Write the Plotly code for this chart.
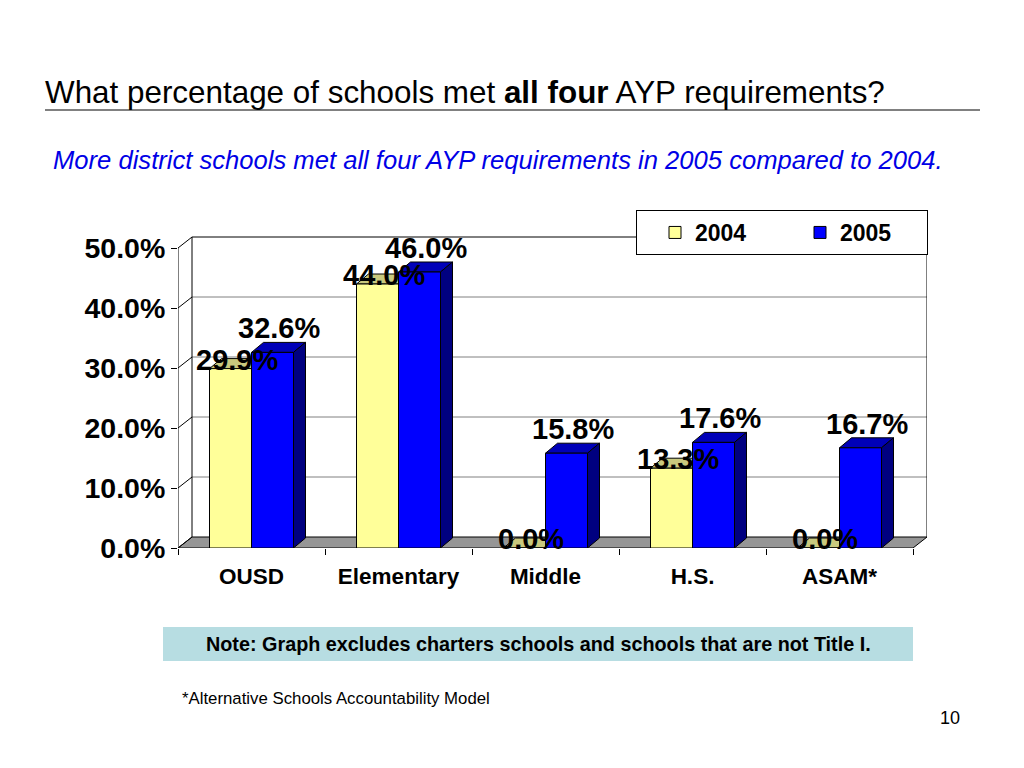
import plotly.graph_objects as go

# ---------------- data ----------------
categories = ["OUSD", "Elementary", "Middle", "H.S.", "ASAM*"]
series_names = ["2004", "2005"]
values_2004 = [29.9, 44.0, 0.0, 13.3, 0.0]
values_2005 = [32.6, 46.0, 15.8, 17.6, 16.7]
y_ticks = [0, 10, 20, 30, 40, 50]
y_tick_labels = ["0.0%", "10.0%", "20.0%", "30.0%", "40.0%", "50.0%"]

title_text = "What percentage of schools met <b>all four</b> AYP requirements?"
subtitle_text = "More district schools met all four AYP requirements in 2005 compared to 2004."
note_text = "Note: Graph excludes charters schools and schools that are not Title I."
footnote_text = "*Alternative Schools Accountability Model"
page_text = "10"

# ---------------- layout geometry (target screen px, page body offset OFF) ----------------
OFF = 8
W, H = 1024 - 2 * OFF, 768 - 2 * OFF
PL, PR = 178 - OFF, 927 - OFF      # plot area left/right
PT, PB = 236 - OFF, 548 - OFF      # plot area top/bottom
UX = 147.0                 # px per category
UY = 6.0                   # px per percentage point
x_range = [-0.5, -0.5 + (PR - PL) / UX]
y_range = [0, (PB - PT) / UY]

bar_w = 42 / UX
wall_dx, wall_dy = 14 / UX, 11 / UY
bar_dx, bar_dy = 12 / UX, 10 / UY

FONT = "Arial, Liberation Sans, Helvetica, sans-serif"
c2004, c2004_top = "#FFFF99", "#C9C97E"
c2005, c2005_top, c2005_side = "#0000FF", "#0000B8", "#000080"


def pxx(px):
    return (px - OFF - PL) / (PR - PL)


def pxy(py):
    return (PB - (py - OFF)) / (PB - PT)


n = len(categories)
idx = list(range(n))
x2004 = [i - bar_w / 2 for i in idx]
x2005 = [i + bar_w / 2 for i in idx]

fig = go.Figure()
fig.add_trace(go.Bar(x=x2004, y=values_2004, width=bar_w, name=f"<b>{series_names[0]}</b>",
                     marker=dict(color=c2004, line=dict(color="#000000", width=1))))
fig.add_trace(go.Bar(x=x2005, y=values_2005, width=bar_w, name=f"<b>{series_names[1]}</b>",
                     marker=dict(color=c2005, line=dict(color="#000000", width=1))))

shapes = []
xl, xr = -0.5, n - 0.5
# floor
shapes.append(dict(type="path", xref="x", yref="y", layer="below",
                   path=f"M {xl},0 L {xr},0 L {xr + wall_dx},{wall_dy} L {xl + wall_dx},{wall_dy} Z",
                   fillcolor="#969696", line=dict(color="#000000", width=1)))
# back wall gridlines
for v in y_ticks[1:]:
    shapes.append(dict(type="line", xref="x", yref="y", layer="below",
                       x0=xl + wall_dx, x1=xr + wall_dx, y0=v + wall_dy, y1=v + wall_dy,
                       line=dict(color="#000000" if v == y_ticks[-1] else "#808080", width=1)))
# side wall diagonals
for v in y_ticks:
    shapes.append(dict(type="line", xref="x", yref="y", layer="below",
                       x0=xl, x1=xl + wall_dx, y0=v, y1=v + wall_dy,
                       line=dict(color="#000000", width=1)))
# wall verticals + front axis line
for x0 in (xl + wall_dx, xr + wall_dx):
    shapes.append(dict(type="line", xref="x", yref="y", layer="below",
                       x0=x0, x1=x0, y0=wall_dy, y1=y_ticks[-1] + wall_dy,
                       line=dict(color="#000000", width=1)))
shapes.append(dict(type="line", xref="x", yref="y", layer="below",
                   x0=xl, x1=xl, y0=0, y1=y_ticks[-1], line=dict(color="#000000", width=1)))

# 3D bar tops / sides
for xs, vals, top_c, side_c in ((x2004, values_2004, c2004_top, "#9E9E50"),
                                (x2005, values_2005, c2005_top, c2005_side)):
    for xc, v in zip(xs, vals):
        a, b = xc - bar_w / 2, xc + bar_w / 2
        shapes.append(dict(type="path", xref="x", yref="y", layer="below",
                           path=f"M {a},{v} L {b},{v} L {b + bar_dx},{v + bar_dy} L {a + bar_dx},{v + bar_dy} Z",
                           fillcolor=top_c, line=dict(color="#000000", width=1)))
        shapes.append(dict(type="path", xref="x", yref="y", layer="below",
                           path=f"M {b},0 L {b},{v} L {b + bar_dx},{v + bar_dy} L {b + bar_dx},{bar_dy} Z",
                           fillcolor=side_c, line=dict(color="#000000", width=1)))

# title rule
shapes.append(dict(type="line", xref="paper", yref="paper", layer="above",
                   x0=pxx(45), x1=pxx(980), y0=pxy(110), y1=pxy(110),
                   line=dict(color="#808080", width=2)))
# note box
shapes.append(dict(type="rect", xref="paper", yref="paper", layer="above",
                   x0=pxx(163), x1=pxx(913), y0=pxy(661), y1=pxy(627),
                   fillcolor="#B7DDE2", line=dict(width=0)))

annotations = []
# data labels
for xs, vals, ys in ((x2004, values_2004, 9), (x2005, values_2005, 24)):
    for xc, v in zip(xs, vals):
        annotations.append(dict(x=xc, y=v, xref="x", yref="y", text=f"<b>{v:.1f}%</b>",
                                showarrow=False, xanchor="center", yanchor="middle",
                                xshift=6, yshift=ys,
                                font=dict(family=FONT, size=29, color="#000000")))

annotations += [
    dict(x=pxx(43), y=pxy(92), xref="paper", yref="paper", text=title_text, showarrow=False,
         xanchor="left", yanchor="middle", font=dict(family=FONT, size=31.4, color="#000000")),
    dict(x=pxx(51), y=pxy(160), xref="paper", yref="paper", text=f"<i>{subtitle_text}</i>",
         showarrow=False, xanchor="left", yanchor="middle",
         font=dict(family=FONT, size=25.6, color="#0000E6")),
    dict(x=pxx(538), y=pxy(644), xref="paper", yref="paper", text=f"<b>{note_text}</b>",
         showarrow=False, xanchor="center", yanchor="middle",
         font=dict(family=FONT, size=19.8, color="#000000")),
    dict(x=pxx(180), y=pxy(698), xref="paper", yref="paper", text=footnote_text,
         showarrow=False, xanchor="left", yanchor="middle",
         font=dict(family=FONT, size=16.8, color="#000000")),
    dict(x=pxx(962), y=pxy(718), xref="paper", yref="paper", text=page_text,
         showarrow=False, xanchor="right", yanchor="middle",
         font=dict(family=FONT, size=18, color="#000000")),
]

fig.update_layout(
    width=W, height=H,
    margin=dict(l=PL, r=W - PR, t=PT, b=H - PB, pad=0, autoexpand=False),
    paper_bgcolor="#FFFFFF", plot_bgcolor="#FFFFFF",
    barmode="overlay",
    showlegend=True,
    legend=dict(xref="paper", yref="paper", x=pxx(636), y=pxy(210),
                xanchor="left", yanchor="top", orientation="h",
                bgcolor="#FFFFFF", bordercolor="#000000", borderwidth=1,
                entrywidth=82, entrywidthmode="pixels", indentation=18,
                font=dict(family=FONT, size=23, color="#000000"),
                itemclick=False),
    xaxis=dict(range=x_range, tickmode="array", tickvals=idx, ticktext=[f"<b>{c}</b>" for c in categories],
               ticks="", showgrid=False, zeroline=False, showline=False,
               ticklabelstandoff=12,
               tickfont=dict(family=FONT, size=22.5, color="#000000"),
               minor=dict(tickmode="array", tickvals=[i - 0.5 for i in range(n + 1)],
                          ticks="outside", ticklen=6, tickcolor="#000000", showgrid=False)),
    yaxis=dict(range=y_range, tickmode="array", tickvals=y_ticks,
               ticktext=[f"<b>{t}</b>" for t in y_tick_labels],
               ticks="outside", ticklen=6, tickcolor="#000000",
               showgrid=False, zeroline=False, showline=False,
               tickfont=dict(family=FONT, size=28.5, color="#000000")),
    shapes=shapes,
    annotations=annotations,
    font=dict(family=FONT),
)

fig.write_html("out.html")
